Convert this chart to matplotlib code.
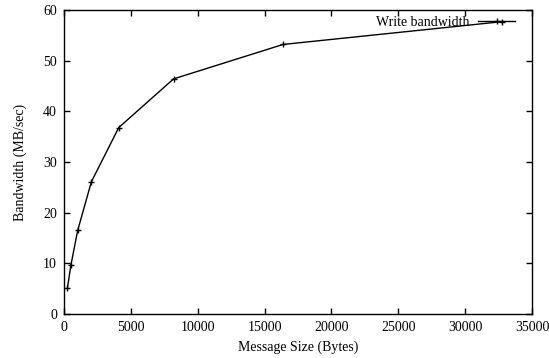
import matplotlib
matplotlib.use("Agg")
import matplotlib.pyplot as plt

# Message sizes (bytes) and measured write bandwidth (MB/sec)
msg_sizes = [256, 512, 1024, 2048, 4096, 8192, 16384, 32768]
write_bw = [5.1, 9.6, 16.5, 26.1, 36.8, 46.4, 53.2, 57.7]

x_ticks = [0, 5000, 10000, 15000, 20000, 25000, 30000, 35000]
y_ticks = [0, 10, 20, 30, 40, 50, 60]

plt.rcParams['font.family'] = ['Liberation Serif', 'DejaVu Serif']
plt.rcParams['font.size'] = 10

fig = plt.figure(figsize=(5.49, 3.58), dpi=100)
ax = fig.add_axes([64 / 549, 1 - 314 / 358, 468 / 549, 304 / 358])

ax.plot(msg_sizes, write_bw, color='black', linewidth=1.0, marker='+',
        markersize=5, markeredgewidth=1.0, label='Write bandwidth')

ax.set_xlim(0, 35000)
ax.set_ylim(0, 60)
ax.set_xticks(x_ticks)
ax.set_yticks(y_ticks)
ax.tick_params(direction='in', top=True, right=True, length=4, width=1.0,
               labelsize=10, pad=5)
for s in ax.spines.values():
    s.set_linewidth(1.0)

ax.set_xlabel('Message Size (Bytes)', fontsize=10, labelpad=5)
ax.set_ylabel('Bandwidth (MB/sec)', fontsize=10, labelpad=12)

leg = ax.legend(loc='upper right', bbox_to_anchor=(0.9756, 1.0),
                frameon=False, markerfirst=False,
                handlelength=2.65, handletextpad=0.6, borderaxespad=0.0,
                fontsize=10)

fig.savefig('out.png', dpi=100)
